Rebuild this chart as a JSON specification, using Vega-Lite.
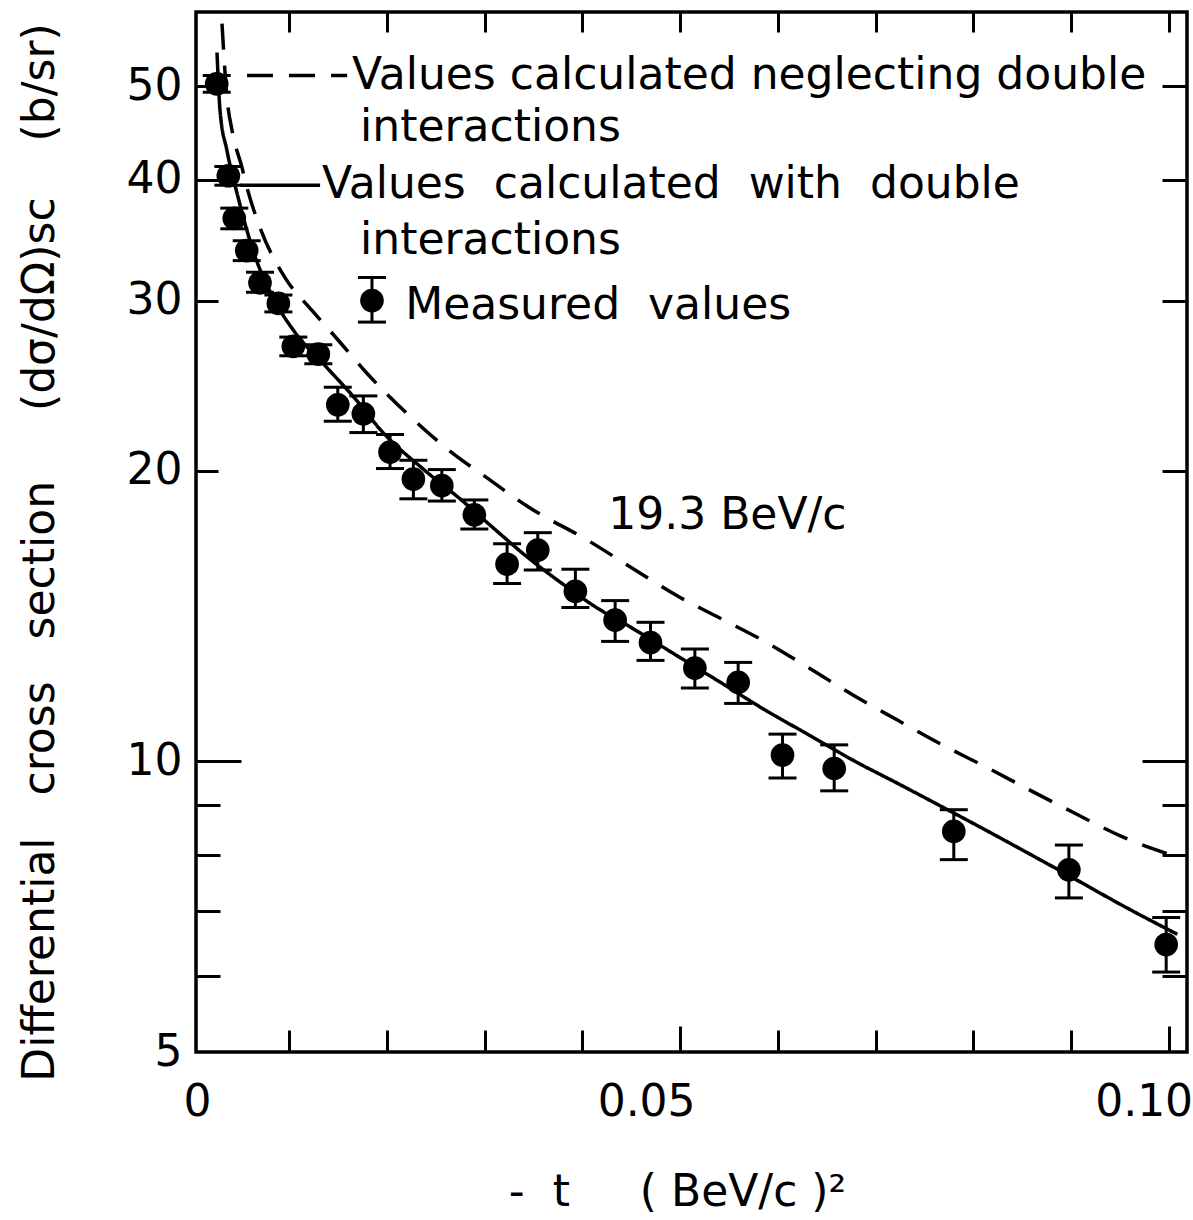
{
  "$schema": "https://vega.github.io/schema/vega-lite/v6.json",
  "width": 991,
  "height": 1040,
  "autosize": "none",
  "padding": {"left": 196, "top": 12, "right": 6, "bottom": 168},
  "background": "white",
  "datasets": {
    "points": [
      {"t": 0.00257, "v": 50.3, "lo": 49.3, "hi": 51.3},
      {"t": 0.00376, "v": 40.4, "lo": 39.5, "hi": 41.3},
      {"t": 0.00437, "v": 36.5, "lo": 35.6, "hi": 37.4},
      {"t": 0.00564, "v": 33.8, "lo": 33.0, "hi": 34.6},
      {"t": 0.00700, "v": 31.3, "lo": 30.6, "hi": 32.1},
      {"t": 0.00888, "v": 29.8, "lo": 29.2, "hi": 30.4},
      {"t": 0.01041, "v": 26.9, "lo": 26.3, "hi": 27.5},
      {"t": 0.01297, "v": 26.4, "lo": 25.8, "hi": 27.0},
      {"t": 0.01496, "v": 23.4, "lo": 22.5, "hi": 24.4},
      {"t": 0.01758, "v": 22.9, "lo": 21.9, "hi": 23.9},
      {"t": 0.02031, "v": 20.9, "lo": 20.1, "hi": 21.8},
      {"t": 0.02270, "v": 19.6, "lo": 18.7, "hi": 20.5},
      {"t": 0.02561, "v": 19.3, "lo": 18.6, "hi": 20.05},
      {"t": 0.02894, "v": 18.0, "lo": 17.4, "hi": 18.65},
      {"t": 0.03229, "v": 16.0, "lo": 15.28, "hi": 16.8},
      {"t": 0.03543, "v": 16.55, "lo": 15.78, "hi": 17.25},
      {"t": 0.03928, "v": 15.0, "lo": 14.43, "hi": 15.81},
      {"t": 0.04335, "v": 14.0, "lo": 13.31, "hi": 14.67},
      {"t": 0.04697, "v": 13.27, "lo": 12.72, "hi": 13.93},
      {"t": 0.05151, "v": 12.49, "lo": 11.91, "hi": 13.07},
      {"t": 0.05594, "v": 12.07, "lo": 11.48, "hi": 12.66},
      {"t": 0.06048, "v": 10.15, "lo": 9.61, "hi": 10.67},
      {"t": 0.06577, "v": 9.83, "lo": 9.32, "hi": 10.4},
      {"t": 0.07801, "v": 8.46, "lo": 7.91, "hi": 8.91},
      {"t": 0.08979, "v": 7.72, "lo": 7.22, "hi": 8.19},
      {"t": 0.09975, "v": 6.46, "lo": 6.05, "hi": 6.89}
    ],
    "curves": [
      {"series": "neglecting", "t": 0.00311, "v": 58.07},
      {"series": "neglecting", "t": 0.00362, "v": 48.68},
      {"series": "neglecting", "t": 0.00414, "v": 45.01},
      {"series": "neglecting", "t": 0.00516, "v": 41.19},
      {"series": "neglecting", "t": 0.00567, "v": 39.28},
      {"series": "neglecting", "t": 0.00700, "v": 35.70},
      {"series": "neglecting", "t": 0.00956, "v": 31.69},
      {"series": "neglecting", "t": 0.01232, "v": 29.30},
      {"series": "neglecting", "t": 0.01468, "v": 27.54},
      {"series": "neglecting", "t": 0.01806, "v": 25.15},
      {"series": "neglecting", "t": 0.02216, "v": 22.86},
      {"series": "neglecting", "t": 0.02625, "v": 21.03},
      {"series": "neglecting", "t": 0.03035, "v": 19.62},
      {"series": "neglecting", "t": 0.03444, "v": 18.35},
      {"series": "neglecting", "t": 0.04058, "v": 16.93},
      {"series": "neglecting", "t": 0.04519, "v": 15.83},
      {"series": "neglecting", "t": 0.04970, "v": 14.84},
      {"series": "neglecting", "t": 0.05420, "v": 14.05},
      {"series": "neglecting", "t": 0.05871, "v": 13.30},
      {"series": "neglecting", "t": 0.06332, "v": 12.47},
      {"series": "neglecting", "t": 0.06782, "v": 11.69},
      {"series": "neglecting", "t": 0.07233, "v": 11.02},
      {"series": "neglecting", "t": 0.07683, "v": 10.40},
      {"series": "neglecting", "t": 0.08144, "v": 9.85},
      {"series": "neglecting", "t": 0.08594, "v": 9.32},
      {"series": "neglecting", "t": 0.09045, "v": 8.83},
      {"series": "neglecting", "t": 0.09506, "v": 8.37},
      {"series": "neglecting", "t": 0.10089, "v": 7.96},
      {"series": "with", "t": 0.00260, "v": 54.2},
      {"series": "with", "t": 0.00291, "v": 47.2},
      {"series": "with", "t": 0.00362, "v": 42.9},
      {"series": "with", "t": 0.00475, "v": 38.4},
      {"series": "with", "t": 0.00629, "v": 33.8},
      {"series": "with", "t": 0.00823, "v": 30.36},
      {"series": "with", "t": 0.01059, "v": 27.80},
      {"series": "with", "t": 0.01366, "v": 25.69},
      {"series": "with", "t": 0.01673, "v": 23.75},
      {"series": "with", "t": 0.01950, "v": 21.95},
      {"series": "with", "t": 0.02390, "v": 20.00},
      {"series": "with", "t": 0.02769, "v": 18.62},
      {"series": "with", "t": 0.03106, "v": 17.38},
      {"series": "with", "t": 0.03444, "v": 16.25},
      {"series": "with", "t": 0.03792, "v": 15.28},
      {"series": "with", "t": 0.04130, "v": 14.46},
      {"series": "with", "t": 0.04519, "v": 13.72},
      {"series": "with", "t": 0.04970, "v": 12.86},
      {"series": "with", "t": 0.05420, "v": 12.06},
      {"series": "with", "t": 0.05871, "v": 11.30},
      {"series": "with", "t": 0.06332, "v": 10.63},
      {"series": "with", "t": 0.06782, "v": 10.01},
      {"series": "with", "t": 0.07233, "v": 9.48},
      {"series": "with", "t": 0.07683, "v": 8.97},
      {"series": "with", "t": 0.08144, "v": 8.47},
      {"series": "with", "t": 0.08594, "v": 8.00},
      {"series": "with", "t": 0.09045, "v": 7.55},
      {"series": "with", "t": 0.09506, "v": 7.11},
      {"series": "with", "t": 0.10089, "v": 6.62}
    ],
    "legendlines": [
      {"series": "neglecting", "t": 0.00567, "v": 51.3},
      {"series": "neglecting", "t": 0.01592, "v": 51.3},
      {"series": "with", "t": 0.00498, "v": 39.5},
      {"series": "with", "t": 0.01315, "v": 39.5}
    ],
    "legendmark": [
      {"t": 0.01846, "v": 30.0, "lo": 28.5, "hi": 31.7}
    ],
    "labels": [
      {"t": 0.01642, "v": 51.3, "text": "Values calculated neglecting double"},
      {"t": 0.01724, "v": 45.3, "text": "interactions"},
      {"t": 0.01335, "v": 39.5, "text": "Values\u00a0\u00a0calculated\u00a0\u00a0with\u00a0\u00a0double"},
      {"t": 0.01724, "v": 34.6, "text": "interactions"},
      {"t": 0.02186, "v": 29.65, "text": "Measured\u00a0\u00a0values"},
      {"t": 0.04264, "v": 17.97, "text": "19.3 BeV/c"}
    ]
  },
  "layer": [
    {
      "data": {"name": "curves"},
      "mark": {"type": "line", "color": "black", "strokeWidth": 3.5, "interpolate": "monotone", "clip": true},
      "encoding": {
        "x": {
          "field": "t", "type": "quantitative",
          "scale": {"domain": [0.00045, 0.10188], "nice": false, "zero": false},
          "axis": {
            "orient": "bottom",
            "values": [0.00045, 0.01, 0.02, 0.03, 0.04, 0.05, 0.06, 0.07, 0.08, 0.09, 0.1],
            "labelExpr": "datum.value < 0.005 ? '0' : (abs(datum.value - 0.05) < 1e-9 ? '0.05' : (abs(datum.value - 0.1) < 1e-9 ? '0.10' : ''))",
            "tickSize": {"condition": [{"test": "datum.value < 0.005", "value": 0}, {"test": "abs(datum.value - 0.05) < 1e-9 || abs(datum.value - 0.1) < 1e-9", "value": -26}], "value": -22},
            "labelPadding": {"condition": {"test": "datum.value < 0.005", "value": 28}, "value": 54},
            "labelOffset": {"condition": [{"test": "abs(datum.value - 0.05) < 1e-9", "value": -34}, {"test": "abs(datum.value - 0.1) < 1e-9", "value": -25}], "value": 1},
            "title": "-\u00a0\u00a0t\u00a0\u00a0\u00a0\u00a0\u00a0(\u00a0BeV/c\u00a0)²",
            "titleX": 481,
            "titleY": 153,
            "titleAlign": "center",
            "titleBaseline": "alphabetic"
          }
        },
        "y": {
          "field": "v", "type": "quantitative",
          "scale": {"type": "log", "domain": [5, 59.7], "nice": false},
          "axis": {
            "orient": "left",
            "values": [5, 6, 7, 8, 9, 10, 20, 30, 40, 50],
            "format": "d",
            "labelExpr": "indexof([5, 10, 20, 30, 40, 50], datum.value) >= 0 ? datum.label : ''",
            "tickSize": {"condition": [{"test": "datum.value == 5", "value": 0}, {"test": "datum.value == 10", "value": -45}, {"test": "datum.value < 10", "value": -24}], "value": -22},
            "labelPadding": {"condition": [{"test": "datum.value == 5", "value": 14}, {"test": "datum.value == 10", "value": 59}], "value": 36},
            "title": "Differential\u00a0\u00a0\u00a0cross\u00a0\u00a0\u00a0section\u00a0\u00a0\u00a0\u00a0\u00a0(dσ/dΩ)sc\u00a0\u00a0\u00a0\u00a0(b/sr)",
            "titleX": -156,
            "titleY": 540,
            "titleAngle": -90,
            "titleAlign": "center",
            "titleBaseline": "middle"
          }
        },
        "detail": {"field": "series", "type": "nominal"},
        "strokeDash": {"field": "series", "type": "nominal", "scale": {"domain": ["neglecting", "with"], "range": [[26, 16], [1, 0]]}, "legend": null}
      }
    },
    {
      "data": {"name": "points"},
      "mark": {"type": "rule", "color": "black", "strokeWidth": 3, "opacity": 1},
      "encoding": {
        "x": {"field": "t", "type": "quantitative", "scale": {"domain": [0.00045, 0.10188], "nice": false, "zero": false}, "axis": null},
        "y": {"field": "lo", "type": "quantitative", "scale": {"type": "log", "domain": [5, 59.7], "nice": false}, "axis": null},
        "y2": {"field": "hi"}
      }
    },
    {
      "data": {"name": "points"},
      "mark": {"type": "tick", "orient": "horizontal", "color": "black", "size": 28, "thickness": 3, "opacity": 1},
      "encoding": {
        "x": {"field": "t", "type": "quantitative", "scale": {"domain": [0.00045, 0.10188], "nice": false, "zero": false}, "axis": null},
        "y": {"field": "lo", "type": "quantitative", "scale": {"type": "log", "domain": [5, 59.7], "nice": false}, "axis": null}
      }
    },
    {
      "data": {"name": "points"},
      "mark": {"type": "tick", "orient": "horizontal", "color": "black", "size": 28, "thickness": 3, "opacity": 1},
      "encoding": {
        "x": {"field": "t", "type": "quantitative", "scale": {"domain": [0.00045, 0.10188], "nice": false, "zero": false}, "axis": null},
        "y": {"field": "hi", "type": "quantitative", "scale": {"type": "log", "domain": [5, 59.7], "nice": false}, "axis": null}
      }
    },
    {
      "data": {"name": "points"},
      "mark": {"type": "point", "shape": "circle", "filled": true, "size": 560, "color": "black", "opacity": 1},
      "encoding": {
        "x": {
          "field": "t", "type": "quantitative",
          "scale": {"domain": [0.00045, 0.10188], "nice": false, "zero": false},
          "axis": {"orient": "top", "values": [0.01, 0.02, 0.03, 0.04, 0.05, 0.06, 0.07, 0.08, 0.09, 0.1], "labels": false, "tickSize": -20, "title": null}
        },
        "y": {
          "field": "v", "type": "quantitative",
          "scale": {"type": "log", "domain": [5, 59.7], "nice": false},
          "axis": {"orient": "right", "values": [6, 7, 8, 9, 10, 20, 30, 40, 50], "labels": false, "tickSize": {"condition": {"test": "datum.value == 10", "value": -45}, "value": -25}, "title": null}
        }
      }
    },
    {
      "data": {"name": "legendlines"},
      "mark": {"type": "line", "color": "black", "strokeWidth": 3.5},
      "encoding": {
        "x": {"field": "t", "type": "quantitative", "scale": {"domain": [0.00045, 0.10188], "nice": false, "zero": false}, "axis": null},
        "y": {"field": "v", "type": "quantitative", "scale": {"type": "log", "domain": [5, 59.7], "nice": false}, "axis": null},
        "detail": {"field": "series", "type": "nominal"},
        "strokeDash": {"field": "series", "type": "nominal", "scale": {"domain": ["neglecting", "with"], "range": [[24, 14], [1, 0]]}, "legend": null}
      }
    },
    {
      "data": {"name": "legendmark"},
      "mark": {"type": "rule", "color": "black", "strokeWidth": 3, "opacity": 1},
      "encoding": {
        "x": {"field": "t", "type": "quantitative", "scale": {"domain": [0.00045, 0.10188], "nice": false, "zero": false}, "axis": null},
        "y": {"field": "lo", "type": "quantitative", "scale": {"type": "log", "domain": [5, 59.7], "nice": false}, "axis": null},
        "y2": {"field": "hi"}
      }
    },
    {
      "data": {"name": "legendmark"},
      "mark": {"type": "tick", "orient": "horizontal", "color": "black", "size": 28, "thickness": 3, "opacity": 1},
      "encoding": {
        "x": {"field": "t", "type": "quantitative", "scale": {"domain": [0.00045, 0.10188], "nice": false, "zero": false}, "axis": null},
        "y": {"field": "lo", "type": "quantitative", "scale": {"type": "log", "domain": [5, 59.7], "nice": false}, "axis": null}
      }
    },
    {
      "data": {"name": "legendmark"},
      "mark": {"type": "tick", "orient": "horizontal", "color": "black", "size": 28, "thickness": 3, "opacity": 1},
      "encoding": {
        "x": {"field": "t", "type": "quantitative", "scale": {"domain": [0.00045, 0.10188], "nice": false, "zero": false}, "axis": null},
        "y": {"field": "hi", "type": "quantitative", "scale": {"type": "log", "domain": [5, 59.7], "nice": false}, "axis": null}
      }
    },
    {
      "data": {"name": "legendmark"},
      "mark": {"type": "point", "shape": "circle", "filled": true, "size": 560, "color": "black", "opacity": 1},
      "encoding": {
        "x": {"field": "t", "type": "quantitative", "scale": {"domain": [0.00045, 0.10188], "nice": false, "zero": false}, "axis": null},
        "y": {"field": "v", "type": "quantitative", "scale": {"type": "log", "domain": [5, 59.7], "nice": false}, "axis": null}
      }
    },
    {
      "data": {"name": "labels"},
      "mark": {"type": "text", "align": "left", "baseline": "middle", "font": "DejaVu Sans", "fontSize": 44, "color": "black"},
      "encoding": {
        "x": {"field": "t", "type": "quantitative", "scale": {"domain": [0.00045, 0.10188], "nice": false, "zero": false}, "axis": null},
        "y": {"field": "v", "type": "quantitative", "scale": {"type": "log", "domain": [5, 59.7], "nice": false}, "axis": null},
        "text": {"field": "text", "type": "nominal"}
      }
    }
  ],
  "resolve": {"axis": {"x": "independent", "y": "independent"}},
  "config": {
    "view": {"stroke": "black", "strokeWidth": 3.5},
    "font": "DejaVu Sans",
    "axis": {
      "labelFont": "DejaVu Sans",
      "labelFontSize": 44,
      "labelColor": "black",
      "titleFont": "DejaVu Sans",
      "titleFontSize": 44,
      "titleFontWeight": "normal",
      "titleColor": "black",
      "tickColor": "black",
      "tickWidth": 3,
      "domain": false,
      "grid": false,
      "labelFlush": false,
      "labelOverlap": false,
      "labelBound": false
    }
  }
}
